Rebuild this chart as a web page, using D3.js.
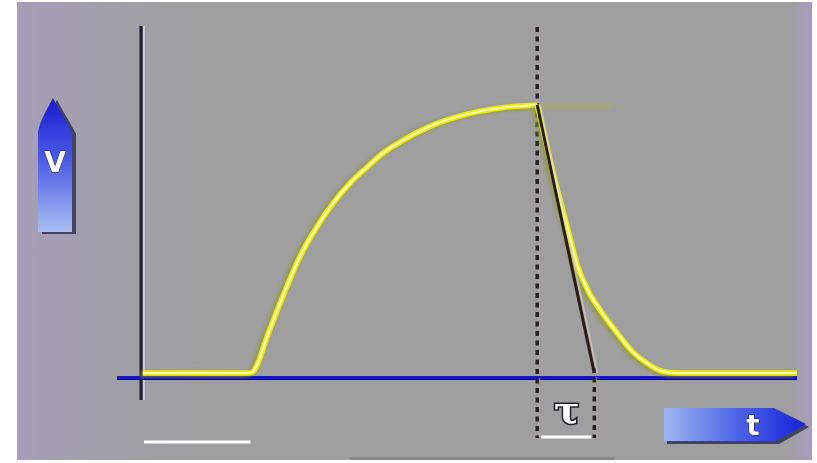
<!DOCTYPE html>
<html>
<head>
<meta charset="utf-8">
<script src="https://cdn.jsdelivr.net/npm/d3@7"></script>
<style>
  html, body { margin: 0; padding: 0; background: #ffffff; }
  svg { display: block; }
</style>
</head>
<body>
<svg id="chart" width="817" height="463"></svg>
<script>
// ---- Data (time t in arbitrary units, voltage v normalised 0..1) ----
const riseT = [0.03, 1.62, 1.70, 1.76, 1.92, 2.16, 2.42, 2.68, 2.93, 3.19, 3.45, 3.69, 3.95, 4.45, 4.97, 5.47, 6.04];
const riseV = [0, 0, 0.004, 0.025, 0.134, 0.284, 0.433, 0.545, 0.634, 0.709, 0.769, 0.821, 0.862, 0.925, 0.966, 0.989, 1.0];
const fallT = [6.04, 6.31, 6.51, 6.66, 6.81, 7.00, 7.26, 7.50, 7.73, 7.94, 8.19, 10.0];
const fallV = [1.0, 0.720, 0.534, 0.396, 0.310, 0.235, 0.149, 0.078, 0.034, 0.007, 0, 0];
const tangentT = [6.04, 6.91];
const tangentV = [1.0, 0];
const tauStart = 6.04;
const tauEnd = 6.91;
const axisLabelV = "V";
const axisLabelT = "t";
const tauLabel = "τ";

// ---- Scales ----
const x = d3.scaleLinear().domain([0, 10]).range([141, 797]);
const y = d3.scaleLinear().domain([0, 1]).range([373, 105]);

const svg = d3.select("#chart");
const defs = svg.append("defs");

// background gradients
const bg = defs.append("linearGradient").attr("id", "bgGrad").attr("x1", "0").attr("x2", "1").attr("y1", "0").attr("y2", "0");
bg.append("stop").attr("offset", "0").attr("stop-color", "#a59eb9");
bg.append("stop").attr("offset", "0.14").attr("stop-color", "#a09fa6");
bg.append("stop").attr("offset", "0.25").attr("stop-color", "#9f9f9f");
bg.append("stop").attr("offset", "0.97").attr("stop-color", "#a09f9f");
bg.append("stop").attr("offset", "1").attr("stop-color", "#a79cc0");

const vGrad = defs.append("linearGradient").attr("id", "vGrad").attr("x1", "0").attr("x2", "0").attr("y1", "0").attr("y2", "1");
vGrad.append("stop").attr("offset", "0").attr("stop-color", "#1a1ad0");
vGrad.append("stop").attr("offset", "0.45").attr("stop-color", "#4a5ae6");
vGrad.append("stop").attr("offset", "1").attr("stop-color", "#a8bff2");

const tGrad = defs.append("linearGradient").attr("id", "tGrad").attr("x1", "0").attr("x2", "1").attr("y1", "0").attr("y2", "0");
tGrad.append("stop").attr("offset", "0").attr("stop-color", "#9fb6f2");
tGrad.append("stop").attr("offset", "0.5").attr("stop-color", "#4f66e8");
tGrad.append("stop").attr("offset", "1").attr("stop-color", "#1522d8");

const soft = defs.append("filter").attr("id", "soft").attr("x", "-5%").attr("y", "-5%").attr("width", "110%").attr("height", "110%");
soft.append("feGaussianBlur").attr("stdDeviation", 0.6);

const glow = defs.append("filter").attr("id", "glow").attr("x", "-20%").attr("y", "-20%").attr("width", "140%").attr("height", "140%");
glow.append("feGaussianBlur").attr("stdDeviation", 1.6);

// ---- Frame ----
svg.append("rect").attr("x", 0).attr("y", 0).attr("width", 817).attr("height", 463).attr("fill", "#ffffff");
svg.append("rect").attr("x", 17).attr("y", 2).attr("width", 795).attr("height", 458).attr("fill", "url(#bgGrad)");
svg.append("rect").attr("x", 350).attr("y", 457).attr("width", 265).attr("height", 3).attr("fill", "#8a8a8a");

const g = svg.append("g").attr("filter", "url(#soft)");

// ---- Axes ----
const y0 = y(0);
g.append("line").attr("x1", x(0) + 3).attr("x2", x(0) + 3).attr("y1", 26).attr("y2", 400)
  .attr("stroke", "#c8c4e0").attr("stroke-width", 2);
g.append("line").attr("x1", x(0)).attr("x2", x(0)).attr("y1", 26).attr("y2", 400)
  .attr("stroke", "#1c1a2e").attr("stroke-width", 3);
g.append("line").attr("x1", 117).attr("x2", x(10)).attr("y1", y0 + 6).attr("y2", y0 + 6)
  .attr("stroke", "#101020").attr("stroke-width", 2);
g.append("line").attr("x1", 117).attr("x2", x(10)).attr("y1", y0 + 4.5).attr("y2", y0 + 4.5)
  .attr("stroke", "#1414c4").attr("stroke-width", 3);

// ---- Dotted markers ----
function dotted(t, yTop, yBot) {
  g.append("line").attr("x1", x(t) + 2).attr("x2", x(t) + 2).attr("y1", yTop).attr("y2", yBot)
    .attr("stroke", "#c9a4a8").attr("stroke-width", 2).attr("stroke-dasharray", "4,5").attr("opacity", 0.6);
  g.append("line").attr("x1", x(t)).attr("x2", x(t)).attr("y1", yTop).attr("y2", yBot)
    .attr("stroke", "#2a2224").attr("stroke-width", 3.5).attr("stroke-dasharray", "5,4.5");
}
dotted(tauStart, 27, 438);
dotted(tauEnd, 368, 438);

// ---- Curve ----
const rise = riseT.map((t, i) => ({ t, v: riseV[i] }));
const fall = fallT.map((t, i) => ({ t, v: fallV[i] }));
const line = d3.line().x(d => x(d.t)).y(d => y(d.v)).curve(d3.curveMonotoneX);

// faint ghost after the peak
g.append("line").attr("x1", x(tauStart)).attr("x2", x(tauStart) + 75).attr("y1", y(1) + 1).attr("y2", y(1) + 1)
  .attr("stroke", "#b8b44a").attr("stroke-width", 5).attr("opacity", 0.35);

function drawCurve(data, gen) {
  g.append("path").datum(data).attr("d", gen).attr("fill", "none")
    .attr("stroke", "#8e9a30").attr("stroke-width", 7).attr("opacity", 0.6)
    .attr("transform", "translate(-3,1)").attr("filter", "url(#glow)");
  g.append("path").datum(data).attr("d", gen).attr("fill", "none")
    .attr("stroke", "#ecea10").attr("stroke-width", 5.5).attr("stroke-linejoin", "round");
  g.append("path").datum(data).attr("d", gen).attr("fill", "none")
    .attr("stroke", "#fdfdb0").attr("stroke-width", 2).attr("stroke-linejoin", "round");
}
drawCurve(rise, line);

const tangent = tangentT.map((t, i) => ({ t, v: tangentV[i] }));
drawCurve(fall, line);
g.append("path").datum(tangent).attr("d", d3.line().x(d => x(d.t)).y(d => y(d.v)))
  .attr("fill", "none").attr("stroke", "#d8d0c8").attr("stroke-width", 2).attr("opacity", 0.6)
  .attr("transform", "translate(3,0)");
g.append("path").datum(tangent).attr("d", d3.line().x(d => x(d.t)).y(d => y(d.v)))
  .attr("fill", "none").attr("stroke", "#2a1a14").attr("stroke-width", 3);

// ---- tau bracket ----
g.append("line").attr("x1", x(tauStart) + 4).attr("x2", x(tauEnd) - 3).attr("y1", 437).attr("y2", 437)
  .attr("stroke", "#ffffff").attr("stroke-width", 3);
g.append("text").attr("x", (x(tauStart) + x(tauEnd)) / 2 + 1).attr("y", 423)
  .attr("text-anchor", "middle").attr("font-family", "DejaVu Serif, serif").attr("font-weight", "bold")
  .attr("font-size", 38).attr("fill", "#ffffff").attr("stroke", "#1a1a2a").attr("stroke-width", 3)
  .attr("paint-order", "stroke").text(tauLabel);

// white scale bar bottom-left
g.append("line").attr("x1", x(0) + 3).attr("x2", x(1.67)).attr("y1", 442).attr("y2", 442)
  .attr("stroke", "#ffffff").attr("stroke-width", 3);

// ---- V arrow ----
const vArrow = "M38,232 L38,132 C40,120 48,108 53,98 C58,108 66,120 72,132 L72,232 Z";
g.append("path").attr("d", vArrow).attr("fill", "#2a2a44").attr("transform", "translate(4,2)").attr("opacity", 0.8);
g.append("path").attr("d", vArrow).attr("fill", "url(#vGrad)");
g.append("text").attr("x", 55).attr("y", 172).attr("text-anchor", "middle")
  .attr("font-family", "DejaVu Sans, sans-serif").attr("font-weight", "bold").attr("font-size", 28)
  .attr("fill", "#ffffff").attr("stroke", "#1a1a60").attr("stroke-width", 1).attr("paint-order", "stroke")
  .text(axisLabelV);

// ---- t arrow ----
const tArrow = "M664,408 L774,408 L806,424 L776,441 L664,441 Z";
g.append("path").attr("d", tArrow).attr("fill", "#2a2a44").attr("transform", "translate(3,3)").attr("opacity", 0.8);
g.append("path").attr("d", tArrow).attr("fill", "url(#tGrad)");
g.append("text").attr("x", 753).attr("y", 435).attr("text-anchor", "middle")
  .attr("font-family", "DejaVu Sans, sans-serif").attr("font-weight", "bold").attr("font-size", 28)
  .attr("fill", "#ffffff").attr("stroke", "#1a1a60").attr("stroke-width", 1).attr("paint-order", "stroke")
  .text(axisLabelT);
</script>
</body>
</html>
